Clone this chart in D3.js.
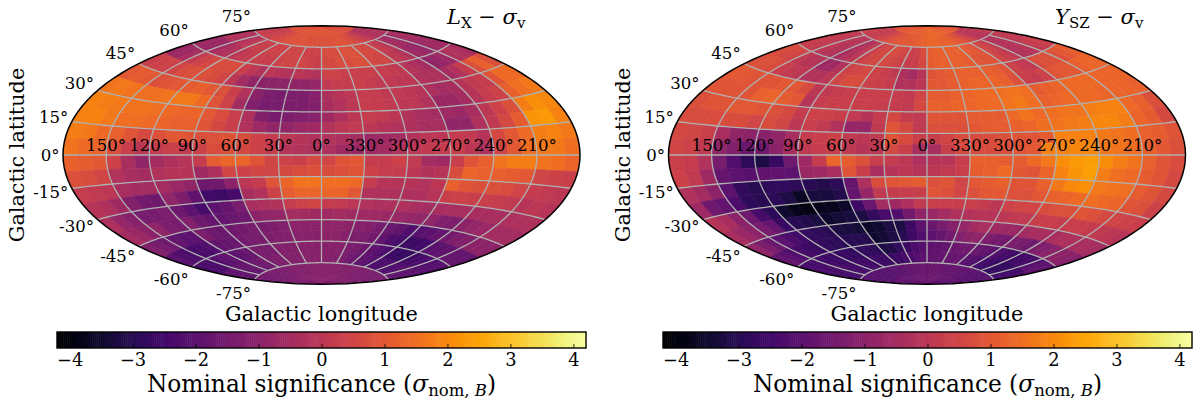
<!DOCTYPE html>
<html>
<head>
<meta charset="utf-8">
<script src="https://cdn.jsdelivr.net/npm/d3@7"></script>
<style>
body { margin: 0; background: #fff; }
text { font-family: "DejaVu Serif"; fill: #000; }
</style>
</head>
<body>
<svg id="chart" width="1200" height="407"></svg>
<script>
// significance per sky cell: rows run lat 90 -> -90 in 7.5 deg steps,
// columns run lon 180 -> 0 -> 180 (left to right) in 10 deg steps
var lxRows = [
[.8,.8,.8,.8,.8,.8,.9,.9,.9,.9,.9,.9,.9,.9,.9,.9,.9,.9,.9,.9,.9,.9,.9,.9,.9,.9,.8,.8,.8,.8,.8,.7,.7,.7,.7,.7],
[.1,.2,.2,.3,.3,.4,.5,.6,.7,.8,.8,.8,.9,.9,.8,.8,.8,.8,.8,.8,.8,.9,.9,.9,.8,.7,.6,.4,.3,.1,-.1,-.2,-.3,-.3,-.3,-.2],
[-.2,-.2,-.3,-.2,-.1,.1,.2,.3,.3,.4,.4,.4,.5,.5,.5,.4,.4,.4,.7,.7,.7,.8,.8,.8,.7,.6,.6,.3,.1,0,-.4,-.5,-.6,-.6,-.5,-.4],
[-.6,-.7,-.7,-.5,-.3,-.2,0,.1,.2,.3,.3,.3,.4,.5,.5,.5,.4,.3,.6,.6,.7,.7,.8,.8,.6,.5,.5,.1,0,-.2,-.6,-.7,-.8,-.7,-.6,-.6],
[-.7,-.6,-.4,.1,.4,.6,.7,.7,.7,.3,0,-.2,0,-.1,-.2,0,-.1,-.2,.4,.4,.3,.3,.3,.3,.2,.2,.1,-.1,-.3,-.5,-.9,-.8,-.6,-.3,-.2,-.4],
[.3,.4,.4,.5,.7,.8,.8,.7,.5,0,-.5,-.9,-1,-1,-1,-.9,-.9,-.8,.1,.2,.2,.3,.2,.1,.1,0,0,-.2,-.3,-.3,-.5,-.2,.2,.8,1.2,.8],
[1,1.1,1,.8,.9,1,1.1,1.2,1,.8,.3,-.2,-1,-1.3,-1.4,-1.3,-1.3,-1.1,-.3,-.1,0,.2,.2,.1,.1,0,-.1,-.3,-.5,-.4,-.1,.1,.2,.9,1.4,1.4],
[1.6,1.7,1.6,1.5,1.5,1.6,1.7,1.7,1.4,.9,.4,-.5,-1.2,-1.4,-1.4,-1.3,-1.3,-1.2,-.4,-.2,0,.2,.2,.1,0,0,-.2,-.7,-.7,-.5,-.1,.2,.4,1.2,1.5,1.7],
[1.9,1.8,1.7,1.6,1.6,1.5,1.4,1.3,1.3,1,.7,.3,-.3,-1.2,-1.4,-1.3,-1.2,-1.1,-.6,-.3,0,.2,.1,0,-.2,-.4,-.5,-.6,-.7,-.4,0,.4,.8,1.8,2.1,2],
[1.9,1.9,1.7,1.5,1.5,1.4,1.3,1.2,1.2,.9,.6,.3,-.2,-.6,-.9,-.9,-.7,-.6,-.2,0,.1,0,-.1,-.2,-.3,-.4,-.4,-.9,-.9,-.3,.1,.6,1.1,2.2,2.3,1.9],
[1.8,1.7,1.4,1.2,.9,.6,.8,1,.9,.8,.8,.9,.7,.4,.2,0,-.1,-.2,-.2,-.3,-.5,-.7,-.6,-.5,-.2,0,0,.2,.1,-.1,.6,1,1.4,1.8,1.9,1.7],
[1.6,1.4,1.3,.8,.3,0,.2,.3,.2,.4,.7,.8,.6,.4,.2,-.1,-.2,-.3,-.3,-.6,-.7,-.6,-.5,-.2,0,.1,.2,.3,0,-.3,.5,1,1.5,1.7,1.7,1.5],
[1.2,1.1,1,.4,-.4,-.9,-.5,-.3,-.1,.2,1.1,1.3,1.3,.9,.5,.4,.3,.6,.5,.9,1,.2,.2,.4,.1,-.5,-.6,.3,.9,1.2,1.6,1.8,1.8,1.6,1.5,1.3],
[.8,.7,.5,-.2,-.4,-.5,-.2,-.1,-.1,-.6,-.3,.5,.4,.5,.5,.6,.7,.8,.7,.8,.9,.4,.2,.2,0,-.2,-.1,.7,1.3,1.2,1.2,1.1,1,.5,.4,.3],
[.2,.1,0,-.4,-.5,-.5,-.5,-.7,-.9,-1.6,-1.6,-1,0,.2,.9,1.3,1.6,1.6,1.5,1.5,1.4,.2,-.1,-.1,-.1,-.2,0,1.2,.9,.8,.8,.7,.5,.2,.1,0],
[-.1,-.3,-.6,-1.2,-1.5,-1.6,-.9,-1.3,-1.9,-2.5,-2.6,-2.4,-.4,-.2,.4,1.1,1.3,1.3,1.3,1.3,1,-.2,-.3,-.3,-.3,-.3,-.1,.3,.4,.3,.3,.2,.1,-.1,0,-.1],
[-.3,-.8,-1.1,-1.4,-1.4,-1.3,-1.6,-2,-2.4,-2,-1.8,-1.4,-.4,-.3,-.2,.2,.4,.5,.2,.1,0,-.2,-.3,-.3,-.3,-.4,-.5,-.4,-.4,-.4,-.4,-.4,-.4,-.3,-.3,-.3],
[-.5,-.7,-1,-.9,-1.3,-1.4,-1.2,-1.6,-1.8,-1.8,-1.7,-1.6,-1,-.9,-.8,-.5,-.5,-.6,-.6,-.5,-.6,-.6,-.6,-.7,-.7,-.8,-.9,-.9,-1.2,-1.3,-1,-.8,-.7,-.5,-.5,-.5],
[-1.2,-1.4,-1.6,-1.8,-2,-2,-1.3,-1.6,-1.7,-1.6,-1.5,-1.4,-1.4,-1.3,-1.2,-1,-1,-1,-.9,-.9,-1,-1.1,-1.2,-1.4,-1.7,-1.9,-2.2,-2.1,-2,-1.8,-1.5,-1.3,-1.2,-1,-1,-1],
[-2,-2.2,-2.3,-2.4,-2.3,-2.2,-1.9,-1.8,-1.7,-1.5,-1.4,-1.4,-1.3,-1.2,-1.2,-1.1,-1.1,-1.1,-1,-1,-1.1,-1.3,-1.3,-1.5,-1.9,-2.2,-2.4,-2.6,-2.6,-2.5,-2.1,-2,-1.9,-1.8,-1.8,-1.8],
[-2.3,-2.3,-2.3,-2.2,-2,-1.9,-2,-1.9,-1.7,-1.4,-1.4,-1.4,-1.2,-1.2,-1.2,-1.1,-1.1,-1.1,-1.1,-1.1,-1.1,-1.3,-1.4,-1.6,-1.9,-2.1,-2.3,-2.6,-2.7,-2.7,-2.6,-2.4,-2.3,-2.2,-2.1,-2.1],
[-1.9,-1.9,-1.9,-1.9,-1.8,-1.8,-1.7,-1.6,-1.5,-1.4,-1.3,-1.3,-1.2,-1.2,-1.2,-1.1,-1.1,-1.1,-1.1,-1.1,-1.2,-1.3,-1.5,-1.7,-1.9,-2,-2.1,-2.2,-2.3,-2.3,-2.3,-2.2,-2.1,-2,-2,-2],
[-1.5,-1.5,-1.5,-1.5,-1.4,-1.4,-1.4,-1.4,-1.3,-1.3,-1.3,-1.2,-1.2,-1.2,-1.2,-1.1,-1.1,-1.1,-1.1,-1.1,-1.1,-1.1,-1.1,-1.2,-1.2,-1.2,-1.2,-1.3,-1.3,-1.3,-1.3,-1.4,-1.4,-1.4,-1.4,-1.5],
[-1.3,-1.3,-1.3,-1.3,-1.3,-1.3,-1.2,-1.2,-1.2,-1.2,-1.2,-1.2,-1.1,-1.1,-1.1,-1.1,-1.1,-1.1,-1.1,-1.1,-1.1,-1.1,-1.1,-1.1,-1.1,-1.1,-1.2,-1.2,-1.2,-1.2,-1.2,-1.2,-1.2,-1.3,-1.3,-1.3]
];
var yszRows = [
[.9,.9,.9,.9,1,1,1,1,1,1.1,1.1,1.1,1.1,1.1,1.1,1.2,1.2,1.2,1.3,1.3,1.3,1.3,1.3,1.3,1.2,1.2,1.2,1.2,1.1,1.1,1.1,1,1,1,.9,.9],
[.3,.3,.2,.2,.2,.3,.4,.5,.7,.8,.9,1,1,1,1,1.1,1.2,1.2,1.3,1.3,1.3,1.2,1.2,1.2,1.1,1,.9,.7,.5,.3,0,-.1,-.1,-.1,0,.1],
[.1,.1,0,0,-.1,-.1,-.3,-.2,.1,.3,.5,.6,.7,.6,.5,.3,.4,.7,1.1,1.2,1.2,1.2,1.2,1.2,1.1,1,.9,.6,.4,.2,-.1,-.2,-.2,0,.1,.1],
[.2,.2,.1,0,-.1,-.2,-.4,-.2,0,.3,.5,.6,.6,.5,.4,.2,.3,.6,1.1,1.2,1.2,1.2,1.2,1.1,1,.9,.9,.5,.3,.1,-.2,-.2,-.1,.1,.2,.3],
[.7,.6,.5,.1,-.1,-.1,-.6,-.6,-.2,.4,.5,.6,.4,.3,.1,-.3,-.5,-.1,.9,1,1.1,1.2,1.2,1.2,1.2,1.1,.9,.4,.2,.1,.7,.8,.8,.8,1,1.1],
[.8,.8,.7,.3,.1,0,-.2,-.2,0,.5,.7,.7,.4,.3,.2,-.2,-.2,0,1,1,1.1,1.2,1.3,1.3,1.3,1.2,.8,.3,.2,.4,.9,1,1,1.2,1.3,1.3],
[1,1,.9,.9,.9,1,1,.7,0,.1,.2,.3,.3,.3,.3,.2,.1,.5,1.1,1.1,1.2,1.3,1.4,1.4,1.5,1.6,1.5,1.1,1.2,1.3,1.4,1.4,1.4,1.3,1.3,1.3],
[.9,.9,.9,.9,1.2,1.3,1.1,1,-.1,.2,.3,.3,.3,.3,.2,.2,.1,.6,1.2,1.2,1.3,1.3,1.4,1.4,1.6,1.7,1.5,1.2,1.3,1.4,1.4,1.4,1.3,1.3,1.3,1.2],
[.8,.9,.9,1,1,.9,.8,.6,.2,.4,.4,.3,.1,-.1,.2,.6,.2,.1,.9,.9,.9,1.1,1.1,1.1,1.4,1.6,1.4,1.5,1.6,1.6,1.8,1.9,1.9,1.4,1.2,.8],
[.7,.7,.7,.7,.7,.5,.7,.5,0,.3,.1,-.2,-.8,-.8,.1,.9,.6,.1,.8,.8,.8,1,1.1,1.1,1.2,1.3,1.5,1.6,1.7,1.8,2,2,1.8,1.3,1.1,.6],
[.6,.5,.3,-.4,-.9,-1,-1.1,-.9,-.4,.2,.3,.4,.1,0,.1,.9,.7,.3,.3,.5,.7,.7,.7,.8,.9,.9,1.1,1.9,1.9,1.9,1.7,1.6,1.5,1.2,1.1,.9],
[.5,.4,.1,-.9,-1.2,-1.7,-1.6,-1,-.4,.1,.2,.3,.1,-.1,0,.6,.3,-.4,-.4,.3,.6,.7,.7,.8,.9,1,1.9,1.9,2,2,1.7,1.6,1.5,1.2,1,.8],
[.3,.2,-.2,-1.4,-2.2,-2.9,-3.2,-2.7,-1.6,-.6,.2,1.3,1.1,.8,.3,.2,0,-.3,-.1,-.1,.3,1.2,1.2,1.1,1.1,1.4,1.7,2.1,2.3,2.4,2.1,1.8,1.6,1.2,.9,.7],
[.4,.1,-.6,-1.8,-2,-2.1,-1.9,-1.9,-2,-.7,-.6,-.4,.9,.3,-.4,-.1,0,-.1,0,.1,.3,1.1,1.2,1.4,1,.9,1.3,1.9,2.2,2.4,1.8,1.5,1.4,1.1,.9,.6],
[-.2,-.5,-1,-2,-2.8,-3,-2.9,-2.8,-2.9,-3,-3.1,-2.9,-1.8,-.3,.7,.9,1,1.1,.8,.9,.5,1,1.1,1.2,.9,.9,1.2,1.7,2,2.1,1.7,1.6,1.5,1.1,.9,.6],
[-.6,-1.6,-1.9,-2.3,-2.9,-3,-2.9,-3.2,-3.7,-3.3,-3.3,-3.1,-1.8,-.8,.1,.2,.2,.3,.9,.8,.5,.8,1,1,.8,.8,1,1.2,1.3,1.4,1.5,1.4,1.3,.9,.8,.4],
[-.1,-.4,-1,-1.6,-2.4,-2.9,-3.5,-3.8,-3.9,-3.8,-3.8,-3.6,-2.6,-1.7,-.5,-.6,-.3,.1,.3,.3,.3,.3,.2,0,.4,.5,.5,.7,.8,.8,.9,.8,.6,.5,.4,.3],
[-.4,-.7,-1,-1.4,-1.8,-2.7,-3,-3.1,-3.3,-3.6,-3.4,-3.3,-3.2,-2.8,-2.4,-2.2,-1.5,-.9,-.7,-.5,-.3,-.2,-.1,-.1,0,.1,.1,.3,.3,.2,.3,.3,.2,.1,0,-.1],
[-.9,-1.3,-1.7,-2,-2.3,-2.5,-2.8,-2.9,-3,-3.2,-3.3,-3.4,-3.6,-3.5,-3.2,-3.2,-2.6,-2,-1.7,-1.4,-1.1,-.8,-.5,-.4,-.6,-.7,-.7,-.5,-.4,-.4,-.4,-.3,-.3,-.4,-.4,-.5],
[-1.8,-2,-2.2,-2.4,-2.6,-2.7,-2.8,-2.9,-2.9,-3,-3,-3.1,-3.5,-3.4,-3.2,-3,-2.6,-2.2,-2,-1.8,-1.5,-1.2,-1,-.9,-1.3,-1.5,-1.5,-1.3,-1.4,-1.6,-1.3,-1.2,-1,-1,-1,-1.1],
[-2.3,-2.4,-2.4,-2.5,-2.6,-2.6,-2.7,-2.7,-2.8,-2.8,-2.8,-2.9,-3.2,-3.1,-2.8,-2.6,-2.3,-2.1,-2,-1.9,-1.8,-1.7,-1.6,-1.6,-1.7,-1.8,-2,-2.2,-2.4,-2.5,-2.6,-2.5,-2.4,-2.2,-2,-1.9],
[-2.4,-2.4,-2.4,-2.4,-2.4,-2.5,-2.5,-2.5,-2.6,-2.6,-2.6,-2.6,-2.7,-2.6,-2.4,-2.3,-2.1,-2,-1.9,-1.9,-1.8,-1.8,-1.8,-1.8,-2,-2.1,-2.2,-2.4,-2.5,-2.7,-2.8,-2.8,-2.7,-2.6,-2.5,-2.4],
[-2.1,-2.1,-2.1,-2.1,-2.1,-2.1,-2.1,-2.1,-2.1,-2,-2,-2,-1.9,-1.9,-1.8,-1.8,-1.7,-1.7,-1.7,-1.7,-1.7,-1.7,-1.8,-1.8,-1.8,-1.8,-1.9,-1.9,-2,-2,-2.1,-2.1,-2.1,-2.1,-2.1,-2.1],
[-1.9,-1.9,-1.9,-1.9,-1.9,-1.9,-1.8,-1.8,-1.8,-1.8,-1.8,-1.8,-1.7,-1.7,-1.7,-1.7,-1.7,-1.7,-1.7,-1.7,-1.7,-1.7,-1.7,-1.7,-1.8,-1.8,-1.8,-1.8,-1.8,-1.8,-1.9,-1.9,-1.9,-1.9,-1.9,-1.9]
];
var latTicks = [-75, -60, -45, -30, -15, 0, 15, 30, 45, 60, 75];
var lonTicks = [150, 120, 90, 60, 30, 0, -30, -60, -90, -120, -150];
var colorTicks = [-4, -3, -2, -1, 0, 1, 2, 3, 4];

var svg = d3.select("#chart");
var color = d3.scaleSequential(d3.interpolateInferno).domain([-4.2, 4.2]);

function aitoffRaw(l, p) {
	var a = Math.acos(Math.cos(p) * Math.cos(l / 2));
	var s = a ? Math.sin(a) / a : 1;
	return [2 * Math.cos(p) * Math.sin(l / 2) / s, Math.sin(p) / s];
}

function panel(rows, cx, barLeft, clipId, title) {
	var cy = 155, rx = 258.5;

	var projection = d3.geoProjection(aitoffRaw)
		.scale(rx / Math.PI)
		.translate([cx, cy])
		.reflectX(true)
		.precision(0.1);
	var path = d3.geoPath(projection);
	var line = d3.line();

	svg.append("clipPath").attr("id", clipId)
		.append("path").attr("d", path({type: "Sphere"}));

	// cells
	var cells = [];
	rows.forEach((row, i) => row.forEach((v, j) => {
		cells.push({lat: 90 - i * 7.5, lon: 180 - j * 10, v: v});
	}));

	svg.append("g").attr("clip-path", `url(#${clipId})`)
		.selectAll("path").data(cells).enter().append("path")
		.attr("d", d => {
			var lons = d3.range(4).map(k => d.lon - k * 10 / 3);
			var top = lons.map(l => projection([l, d.lat]));
			var bot = lons.slice().reverse().map(l => projection([l, d.lat - 7.5]));
			return line(top.concat(bot)) + "Z";
		})
		.attr("fill", d => color(d.v))
		.attr("stroke", d => color(d.v))
		.attr("stroke-width", 0.6);

	// graticule
	var grid = svg.append("g").attr("fill", "none")
		.attr("stroke", "#b0b0b0").attr("stroke-width", 1.3);

	latTicks.forEach(lat => {
		grid.append("path").attr("d", line(d3.range(-180, 181, 4).map(l => projection([l, lat]))));
	});
	lonTicks.forEach(lon => {
		grid.append("path").attr("d", line(d3.range(-75, 76, 3).map(p => projection([lon, p]))));
	});

	svg.append("path").attr("d", path({type: "Sphere"}))
		.attr("fill", "none").attr("stroke", "#000").attr("stroke-width", 1.5);

	// tick labels
	svg.append("g").selectAll("text").data(lonTicks).enter().append("text")
		.attr("x", d => projection([d, 0])[0])
		.attr("y", cy - 4.5)
		.attr("text-anchor", "middle")
		.attr("font-size", 16.6)
		.text(d => (d < 0 ? d + 360 : d) + "°");

	svg.append("g").selectAll("text").data(latTicks).enter().append("text")
		.attr("x", d => projection([180, d])[0] - 3.5)
		.attr("y", d => projection([180, d])[1] - 14 * Math.sin(d * Math.PI / 180) + 5.5)
		.attr("text-anchor", "end")
		.attr("font-size", 16.6)
		.text(d => d + "°");

	// axis titles
	svg.append("text").attr("x", cx).attr("y", 320.5)
		.attr("text-anchor", "middle").attr("font-size", 20.8)
		.text("Galactic longitude");
	svg.append("text")
		.attr("transform", `translate(${cx - rx - 39},${cy}) rotate(-90)`)
		.attr("text-anchor", "middle").attr("font-size", 20.8)
		.text("Galactic latitude");

	// title
	var t = svg.append("text").attr("x", title.x).attr("y", 24).attr("font-size", 21);
	t.append("tspan").attr("font-style", "italic").text(title.main);
	t.append("tspan").attr("dy", 4).attr("font-size", 15).text(title.sub);
	t.append("tspan").attr("dy", -4).text(" − ");
	t.append("tspan").attr("font-style", "italic").text("σ");
	t.append("tspan").attr("dy", 4).attr("font-size", 15).text("v");

	// colour bar
	var barTop = 332, barH = 16, barW = 529;
	var x = d3.scaleLinear().domain([-4.2, 4.2]).range([barLeft, barLeft + barW]);
	var steps = d3.range(-4.2, 4.2, 8.4 / 256);

	svg.append("g").selectAll("rect").data(steps).enter().append("rect")
		.attr("x", d => x(d))
		.attr("y", barTop)
		.attr("width", barW / 256 + 0.5)
		.attr("height", barH)
		.attr("fill", d => color(d));

	var axis = svg.append("g")
		.attr("transform", `translate(0,${barTop + barH})`)
		.call(d3.axisBottom(x).tickValues(colorTicks).tickSizeInner(-4).tickSizeOuter(0).tickPadding(5));
	axis.select(".domain").remove();
	axis.selectAll("line").attr("stroke", "#000").attr("stroke-width", 0.8);
	axis.selectAll("text").attr("font-family", "DejaVu Serif").attr("font-size", 17.8).attr("fill", "#000");

	svg.append("rect").attr("x", barLeft).attr("y", barTop).attr("width", barW).attr("height", barH)
		.attr("fill", "none").attr("stroke", "#000").attr("stroke-width", 1.4);

	var c = svg.append("text").attr("x", barLeft + barW / 2).attr("y", 392)
		.attr("text-anchor", "middle").attr("font-size", 23.3)
		.text("Nominal significance (");
	c.append("tspan").attr("font-style", "italic").text("σ");
	c.append("tspan").attr("dy", 4).attr("font-size", 16.5).text("nom, ");
	c.append("tspan").attr("font-size", 16.5).attr("font-style", "italic").text("B");
	c.append("tspan").attr("dy", -4).text(")");
}

panel(lxRows, 321.5, 57, "clip-lx", {x: 447, main: "L", sub: "X"});
panel(yszRows, 927, 663, "clip-ysz", {x: 1055, main: "Y", sub: "SZ"});
</script>
</body>
</html>
